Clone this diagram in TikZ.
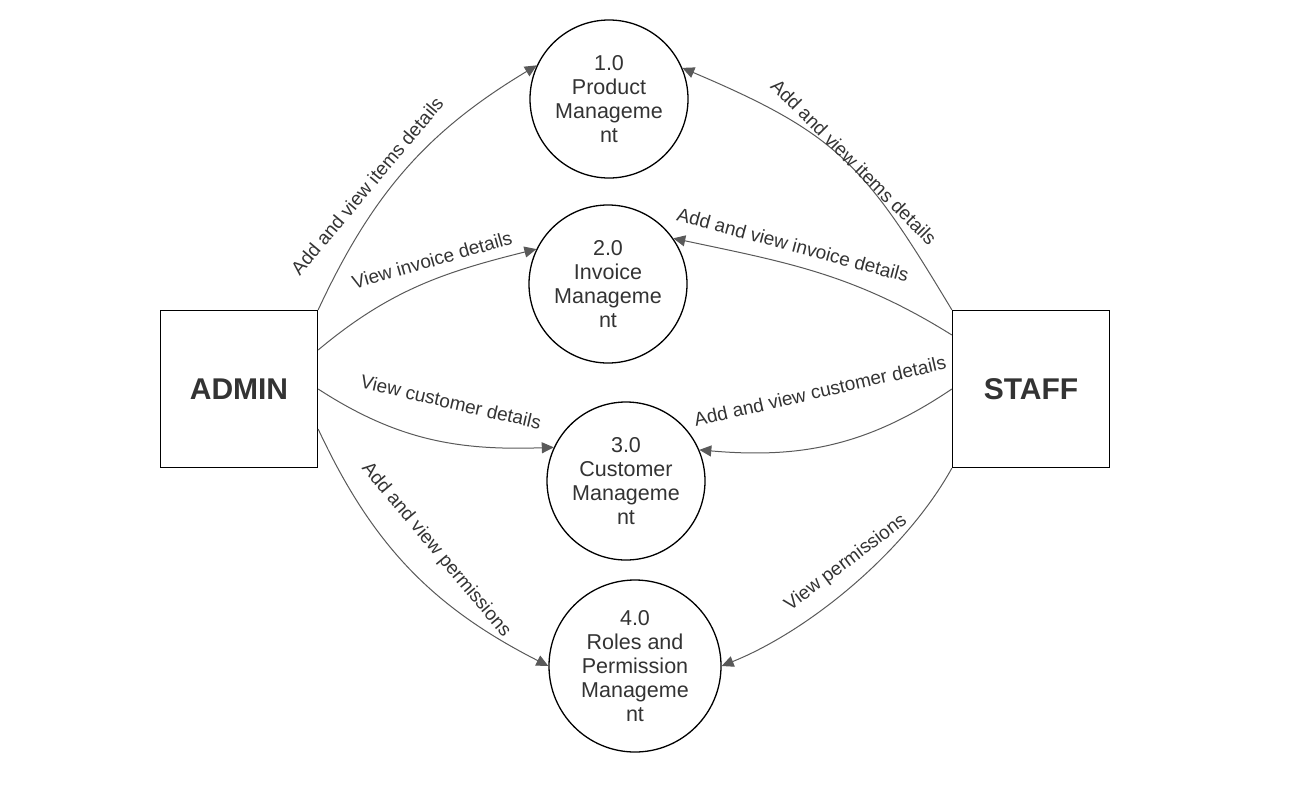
\documentclass[tikz,border=0pt]{standalone}
\usepackage{fontspec}
\setmainfont{Liberation Sans}
\usepackage{tikz}
\usetikzlibrary{arrows.meta,positioning}
\definecolor{txtgray}{HTML}{333333}
\definecolor{flowgray}{HTML}{595959}

\begin{document}
\begin{tikzpicture}[x=1pt,y=-1pt,
  process/.style={circle,draw=black,line width=1.3pt,minimum size=158pt,inner sep=0pt,
    align=center,text=txtgray,font=\fontsize{21.5}{24}\selectfont},
  entity/.style={rectangle,draw=black,line width=1.3pt,minimum size=157pt,inner sep=0pt,
    text=txtgray,font=\fontsize{30}{36}\selectfont\bfseries},
  flow/.style={draw=flowgray,line width=1pt,-{Triangle[length=12pt,width=11pt]}},
  flowlabel/.style={text=txtgray,font=\fontsize{19}{22}\selectfont,inner sep=0pt}]
  \useasboundingbox (0,0) rectangle (1293,790);
  % external entities
  \node[entity] (admin) at (239,389) {ADMIN};
  \node[entity] (staff) at (1031,389) {STAFF};
  % processes
  \node[process] (p1) at (609,99) {1.0\\Product\\Manageme\\nt};
  \node[process] (p2) at (608,284) {2.0\\Invoice\\Manageme\\nt};
  \node[process] (p3) at (626,481) {3.0\\Customer\\Manageme\\nt};
  \node[process,minimum size=172pt] (p4) at (635,666) {4.0\\Roles and\\Permission\\Manageme\\nt};
  % admin flows
  \draw[flow] (admin.north east) to[out=65,in=211] (p1.155);
  \draw[flow] ([yshift=39pt]admin.east) to[out=40,in=194] (p2.154);
  \draw[flow] (admin.east) to[out=-33,in=182] (p3.155);
  \draw[flow] ([yshift=-40pt]admin.east) to[out=-65,in=153] (p4.180);
  % staff flows
  \draw[flow] (staff.north west) to[out=121,in=-23,looseness=1.2] (p1.23);
  \draw[flow] ([yshift=54pt]staff.west) to[out=148,in=-12] (p2.35);
  \draw[flow] (staff.west) to[out=-146,in=-5] (p3.23);
  \draw[flow] (staff.south west) to[out=241,in=22,looseness=0.8] (p4.0);
  % labels
  \node[flowlabel,rotate=50] (l1) at (367,186) {Add and view items details};
  \node[flowlabel,rotate=16] (l2) at (432,260) {View invoice details};
  \node[flowlabel,rotate=-13] (l3) at (451,402) {View customer details};
  \node[flowlabel,rotate=-50] (l4) at (436,550) {Add and view permissions};
  \node[flowlabel,rotate=-45] (l5) at (854,162) {Add and view items details};
  \node[flowlabel,rotate=-15] (l6) at (793,245) {Add and view invoice details};
  \node[flowlabel,rotate=13] (l7) at (820,391) {Add and view customer details};
  \node[flowlabel,rotate=37] (l8) at (846,563) {View permissions};
\end{tikzpicture}
\end{document}
